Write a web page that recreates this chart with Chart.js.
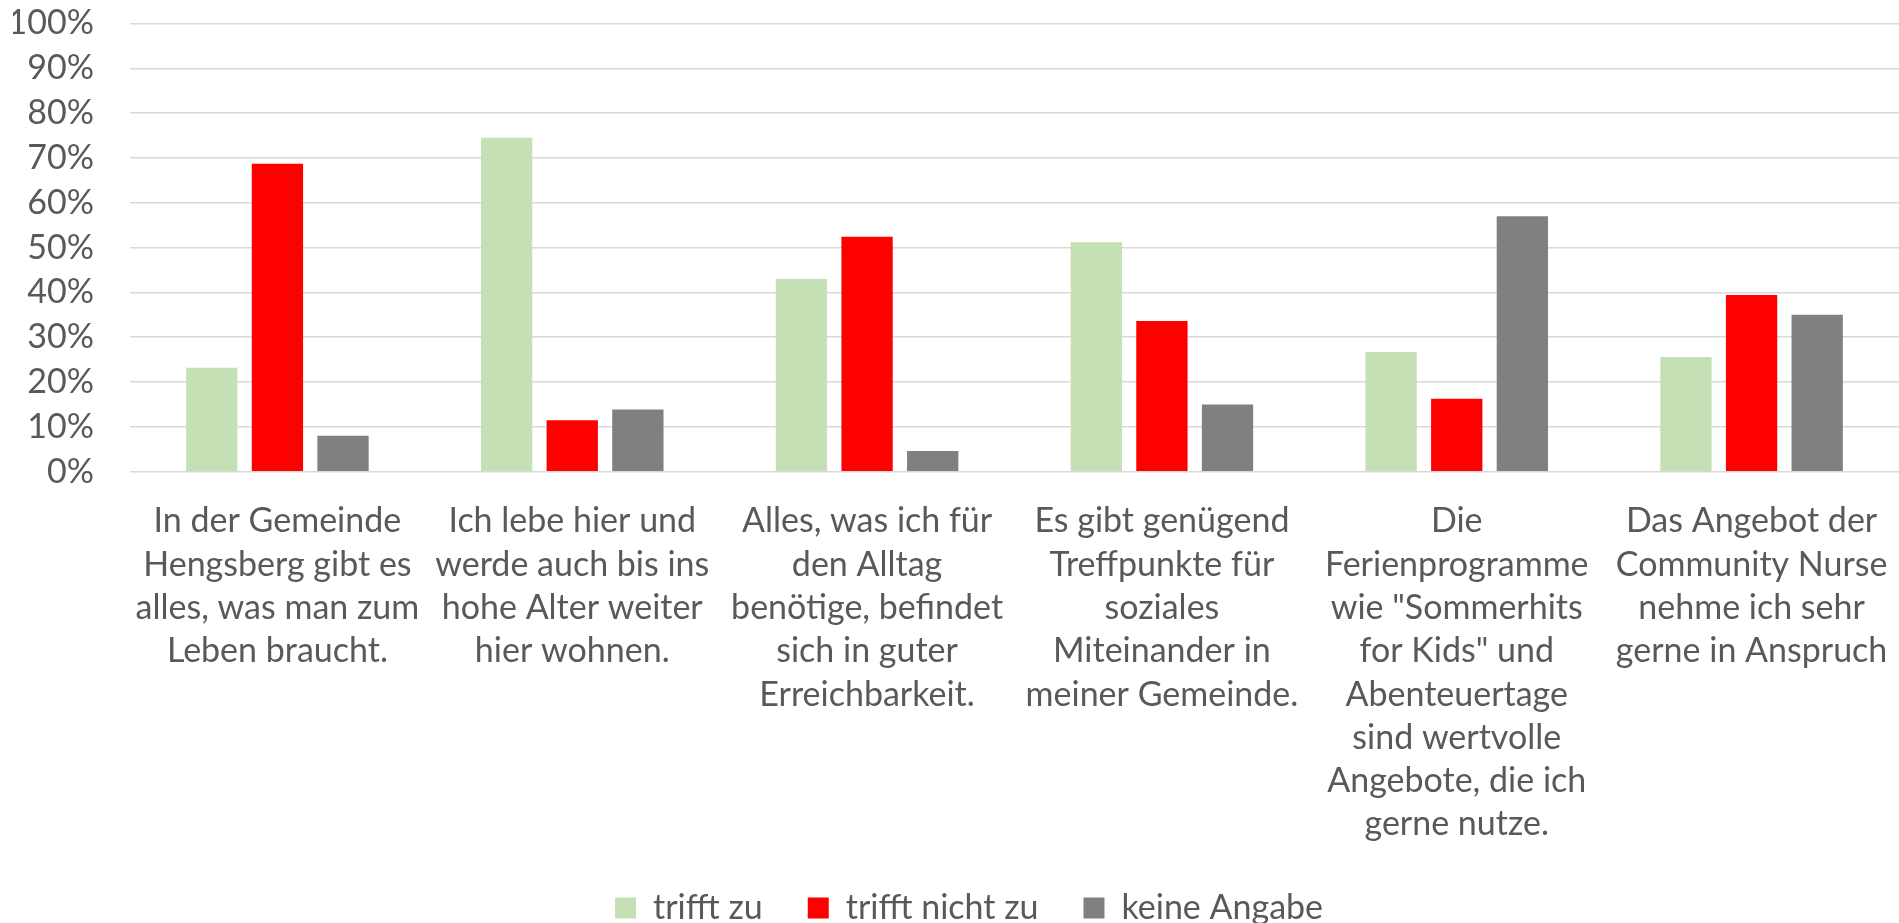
<!DOCTYPE html>
<html><head><meta charset="utf-8">
<script src="https://cdn.jsdelivr.net/npm/chart.js@4/dist/chart.umd.min.js"></script>
<style>html,body{margin:0;padding:0;background:#fff;overflow:hidden}#wrap{width:1899px;height:935px;position:relative}</style>
</head><body><div id="wrap"><canvas id="c"></canvas></div>
<script>
const categories = [
  ["In der Gemeinde","Hengsberg gibt es","alles, was man zum","Leben braucht."],
  ["Ich lebe hier und","werde auch bis ins","hohe Alter weiter","hier wohnen."],
  ["Alles, was ich für","den Alltag","benötige, befindet","sich in guter","Erreichbarkeit."],
  ["Es gibt genügend","Treffpunkte für","soziales","Miteinander in","meiner Gemeinde."],
  ["Die","Ferienprogramme","wie \"Sommerhits","for Kids\" und","Abenteuertage","sind wertvolle","Angebote, die ich","gerne nutze."],
  ["Das Angebot der","Community Nurse","nehme ich sehr","gerne in Anspruch"]
];
const seriesNames = ["trifft zu","trifft nicht zu","keine Angabe"];
const trifftZu = [23.2, 74.5, 43.0, 51.2, 26.7, 25.6];
const trifftNichtZu = [68.7, 11.5, 52.4, 33.6, 16.3, 39.4];
const keineAngabe = [8.0, 13.9, 4.6, 15.0, 57.0, 35.0];
const yTicks = [0,10,20,30,40,50,60,70,80,90,100];

const FONT = "Lato, sans-serif";
const TXT = '#595959';
const FS = 34;
Chart.defaults.font.family = FONT;
Chart.defaults.color = TXT;

const legendShift = {
  id: 'legendShift',
  afterLayout(chart) { if (chart.legend) { chart.legend.left += 26; } }
};

new Chart(document.getElementById('c'), {
  type: 'bar',
  data: {
    labels: categories,
    datasets: [
      {label: seriesNames[0], data: trifftZu, backgroundColor: '#c5e0b4'},
      {label: seriesNames[1], data: trifftNichtZu, backgroundColor: '#ff0000'},
      {label: seriesNames[2], data: keineAngabe, backgroundColor: '#808080'}
    ]
  },
  plugins: [legendShift],
  options: {
    responsive: true,
    maintainAspectRatio: false,
    animation: false,
    datasets: {bar: {categoryPercentage: 0.6676, barPercentage: 0.782}},
    layout: {padding: {left: 13, right: 0, top: 0, bottom: 0}},
    scales: {
      x: {
        grid: {display: false},
        border: {display: false},
        ticks: {autoSkip: false, maxRotation: 0, minRotation: 0, padding: 20,
          font: {size: FS, lineHeight: '43.3px'}, color: TXT},
        afterFit: (s) => { s.height = 374.3; s.paddingLeft = 0; s.paddingRight = 0; }
      },
      y: {
        min: 0, max: 100,
        afterBuildTicks: (s) => { s.ticks = yTicks.map(v => ({value: v})); },
        grid: {color: '#d9d9d9', lineWidth: 1.5, drawTicks: false},
        border: {display: false},
        ticks: {autoSkip: false, padding: 36, font: {size: FS}, color: TXT, callback: v => v + '%'},
        afterFit: (s) => { s.width = 117; s.paddingTop = 23.5; s.paddingBottom = 0; }
      }
    },
    plugins: {
      legend: {position: 'bottom',
        labels: {boxWidth: 21, boxHeight: 21, padding: 45, font: {size: FS}, color: TXT}},
      tooltip: {enabled: false}
    }
  }
});
</script></body></html>
